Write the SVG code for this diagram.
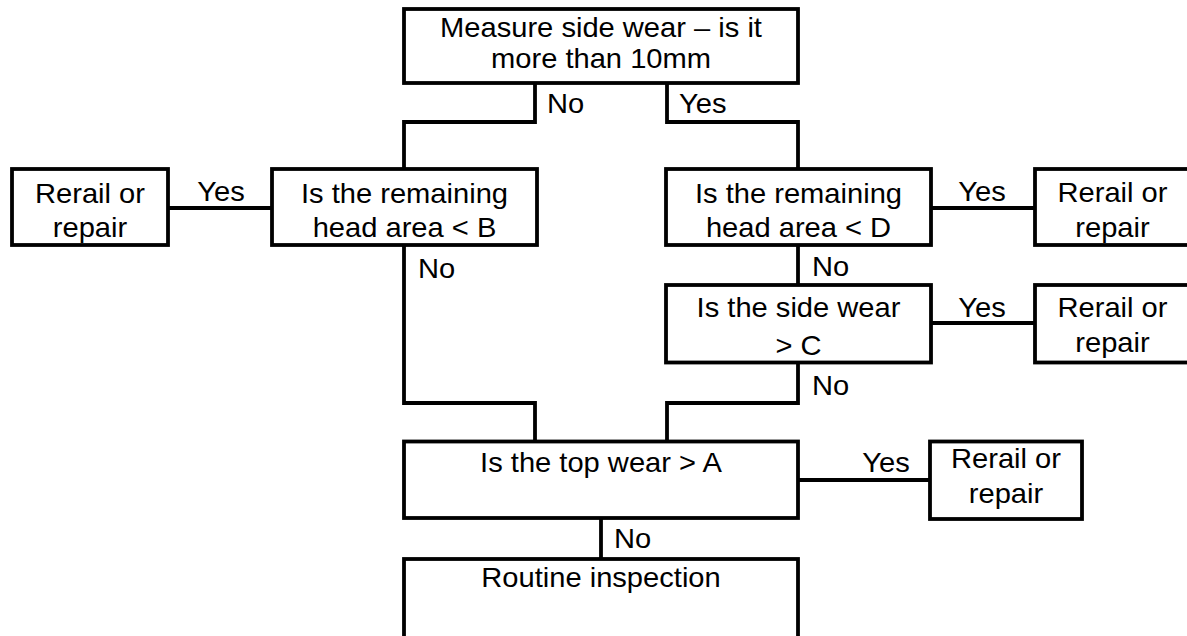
<svg xmlns="http://www.w3.org/2000/svg" width="1187" height="636" viewBox="0 0 1187 636">
<style>
.box{fill:#fff;stroke:#000;stroke-width:3.8}
.ln{fill:none;stroke:#000;stroke-width:3.8}
text{font-family:"Liberation Sans",Arial,sans-serif;font-size:28px;fill:#000}
.c{text-anchor:middle}
</style>
<rect width="1187" height="636" fill="#fff"/>
<g id="connectors">
<path class="ln" d="M535,83 V122 H404 V169"/>
<path class="ln" d="M667,83 V122 H798 V169"/>
<path class="ln" d="M168,208 H272"/>
<path class="ln" d="M931,208 H1035"/>
<path class="ln" d="M798,245 V285"/>
<path class="ln" d="M931,323 H1035"/>
<path class="ln" d="M404,245 V403 H535 V442"/>
<path class="ln" d="M798,362 V403 H667 V442"/>
<path class="ln" d="M798,480 H930"/>
<path class="ln" d="M601,518 V559"/>
<text transform="translate(547,113) scale(1.04,1)">No</text>
<text transform="translate(679,113) scale(1.04,1)">Yes</text>
<text class="c" transform="translate(221,201) scale(1.04,1)">Yes</text>
<text transform="translate(418,278) scale(1.04,1)">No</text>
<text class="c" transform="translate(982,201) scale(1.04,1)">Yes</text>
<text transform="translate(812,276) scale(1.04,1)">No</text>
<text class="c" transform="translate(982,317) scale(1.04,1)">Yes</text>
<text transform="translate(812,395) scale(1.04,1)">No</text>
<text class="c" transform="translate(886,472) scale(1.04,1)">Yes</text>
<text transform="translate(614,548) scale(1.04,1)">No</text>
</g>
<g id="start">
<rect class="box" x="404" y="9" width="394" height="74"/>
<text class="c" transform="translate(601,37) scale(1.04,1)">Measure side wear – is it</text>
<text class="c" transform="translate(601,68) scale(1.04,1)">more than 10mm</text>
</g>
<g id="rerail-b">
<rect class="box" x="12" y="169" width="156" height="76"/>
<text class="c" transform="translate(90,203) scale(1.04,1)">Rerail or</text>
<text class="c" transform="translate(90,237) scale(1.04,1)">repair</text>
</g>
<g id="check-b">
<rect class="box" x="272" y="169" width="265" height="76"/>
<text class="c" transform="translate(404.5,203) scale(1.04,1)">Is the remaining</text>
<text class="c" transform="translate(404.5,237) scale(1.04,1)">head area &lt; B</text>
</g>
<g id="check-d">
<rect class="box" x="666" y="169" width="265" height="76"/>
<text class="c" transform="translate(798.5,203) scale(1.04,1)">Is the remaining</text>
<text class="c" transform="translate(798.5,237) scale(1.04,1)">head area &lt; D</text>
</g>
<g id="rerail-d">
<rect class="box" x="1035" y="169" width="170" height="76"/>
<text class="c" transform="translate(1112.5,202) scale(1.04,1)">Rerail or</text>
<text class="c" transform="translate(1112.5,237) scale(1.04,1)">repair</text>
</g>
<g id="check-c">
<rect class="box" x="666" y="285" width="265" height="77.5"/>
<text class="c" transform="translate(798.5,317) scale(1.04,1)">Is the side wear</text>
<text class="c" transform="translate(798.5,355) scale(1.04,1)">&gt; C</text>
</g>
<g id="rerail-c">
<rect class="box" x="1035" y="285" width="170" height="77.5"/>
<text class="c" transform="translate(1112.5,317) scale(1.04,1)">Rerail or</text>
<text class="c" transform="translate(1112.5,352) scale(1.04,1)">repair</text>
</g>
<g id="check-a">
<rect class="box" x="404" y="441.5" width="394" height="76.5"/>
<text class="c" transform="translate(601,472) scale(1.04,1)">Is the top wear &gt; A</text>
</g>
<g id="rerail-a">
<rect class="box" x="930" y="441.5" width="152" height="77.5"/>
<text class="c" transform="translate(1006,468) scale(1.04,1)">Rerail or</text>
<text class="c" transform="translate(1006,503) scale(1.04,1)">repair</text>
</g>
<g id="routine">
<rect class="box" x="404" y="559" width="394" height="100"/>
<text class="c" transform="translate(601,587) scale(1.04,1)">Routine inspection</text>
</g>
</svg>
